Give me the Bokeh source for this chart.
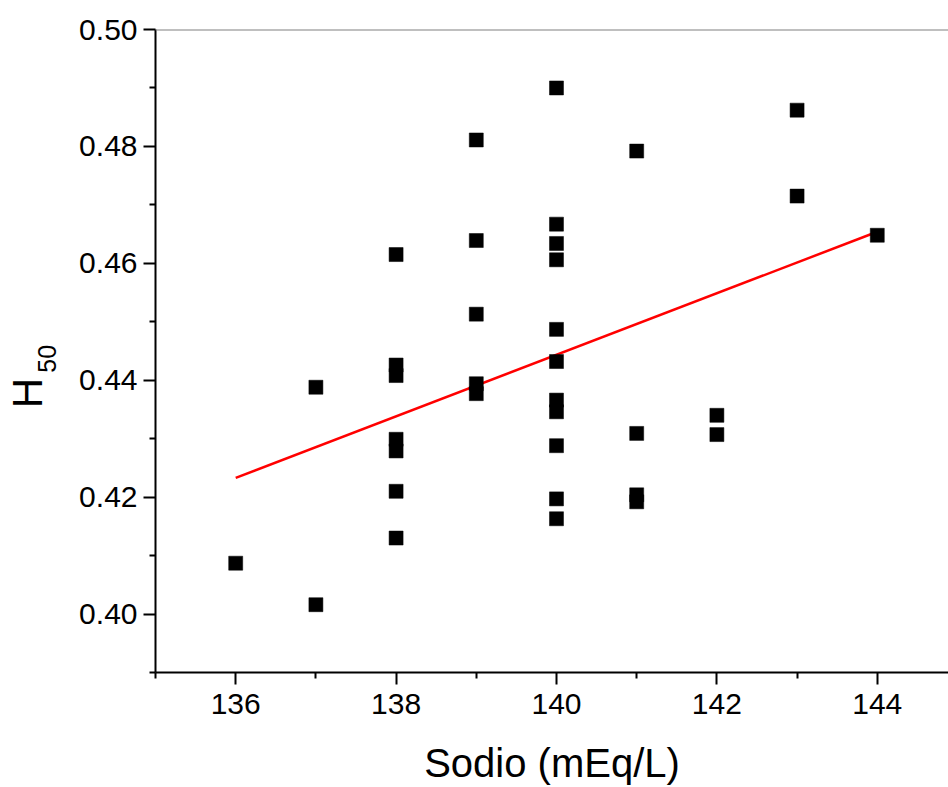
import math
from bokeh.plotting import figure
from bokeh.layouts import row
from bokeh.models import Range1d, FixedTicker, Span, Label, NumeralTickFormatter
from bokeh.embed import file_html
from bokeh.resources import INLINE

# ---- data ----
sodio = [136,
         137, 137,
         138, 138, 138, 138, 138, 138, 138,
         139, 139, 139, 139, 139,
         140, 140, 140, 140, 140, 140, 140, 140, 140, 140, 140,
         141, 141, 141, 141,
         142, 142,
         143, 143,
         144]
h50 = [0.4087,
       0.4388, 0.4016,
       0.4615, 0.4426, 0.4408, 0.4299, 0.4279, 0.4210, 0.4130,
       0.4811, 0.4639, 0.4513, 0.4394, 0.4377,
       0.4900, 0.4667, 0.4634, 0.4606, 0.4487, 0.4432, 0.4366, 0.4346, 0.4288, 0.4197, 0.4163,
       0.4792, 0.4309, 0.4204, 0.4192,
       0.4340, 0.4307,
       0.4862, 0.4715,
       0.4648]

fit_x = [136, 144]
fit_y = [0.4233, 0.4654]

x_major = [136, 138, 140, 142, 144]
x_minor = [135, 137, 139, 141, 143]
y_major = [0.40, 0.42, 0.44, 0.46, 0.48, 0.50]
y_minor = [0.39, 0.41, 0.43, 0.45, 0.47, 0.49]

x_title = "Sodio (mEq/L)"
y_title_main = "H"
y_title_sub = "50"

FONT = "Liberation Sans"
H = 787
TW = 70  # width of the strip holding the y title

# ---- strip holding the rotated y-axis title (H with subscript 50) ----
t = figure(width=TW, height=H, output_backend="svg", toolbar_location=None,
           x_range=Range1d(0, TW), y_range=Range1d(0, H),
           x_axis_location=None, y_axis_location=None,
           min_border_left=0, min_border_right=0, min_border_top=0, min_border_bottom=0)
t.outline_line_color = None
t.xgrid.visible = False
t.ygrid.visible = False
t.background_fill_color = "white"
t.border_fill_color = "white"
t.add_layout(Label(x=27, y=342, text=y_title_main, angle=math.pi / 2,
                   text_align="center", text_baseline="alphabetic",
                   text_font=FONT, text_font_size="42px", text_color="black"))
t.add_layout(Label(x=46, y=384, text=y_title_sub, angle=math.pi / 2,
                   text_align="center", text_baseline="alphabetic",
                   text_font=FONT, text_font_size="25px", text_color="black"))

# ---- main scatter plot ----
p = figure(width=948 - TW, height=H, output_backend="svg", toolbar_location=None,
           x_range=Range1d(135, 144.888), y_range=Range1d(0.39, 0.50),
           min_border_left=155 - TW, min_border_right=0, min_border_top=29,
           min_border_bottom=115)
p.outline_line_color = None
p.background_fill_color = "white"
p.border_fill_color = "white"
p.xgrid.visible = False
p.ygrid.visible = False

for ax in (p.xaxis[0], p.yaxis[0]):
    ax.axis_line_color = "black"
    ax.axis_line_width = 2
    ax.major_tick_line_color = "black"
    ax.major_tick_line_width = 2
    ax.minor_tick_line_color = "black"
    ax.minor_tick_line_width = 2
    ax.major_tick_out = 12
    ax.major_tick_in = 0
    ax.minor_tick_out = 6
    ax.minor_tick_in = 0
    ax.major_label_text_font = FONT
    ax.major_label_text_font_size = "30px"
    ax.major_label_text_color = "black"

p.xaxis.ticker = FixedTicker(ticks=x_major, minor_ticks=x_minor)
p.yaxis.ticker = FixedTicker(ticks=y_major, minor_ticks=y_minor)
p.yaxis.formatter = NumeralTickFormatter(format="0.00")
p.xaxis.major_label_standoff = 9
p.yaxis.major_label_standoff = 6

p.xaxis.axis_label = x_title
p.xaxis.axis_label_text_font = FONT
p.xaxis.axis_label_text_font_size = "40px"
p.xaxis.axis_label_text_font_style = "normal"
p.xaxis.axis_label_text_color = "black"
p.xaxis.axis_label_standoff = 24

p.add_layout(Span(location=0.50, dimension="width", line_color="#808080", line_width=2))

p.line(fit_x, fit_y, line_color="#ff0000", line_width=2.5)
p.scatter(sodio, h50, marker="square", size=14, fill_color="black", line_color="black", line_width=0.5)

layout = row(t, p, spacing=0)
open("out.html", "w").write(file_html(layout, INLINE))
